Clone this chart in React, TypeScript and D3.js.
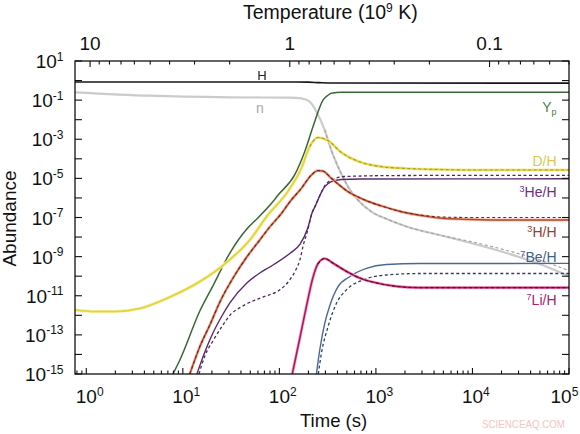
import React from "react";
import * as d3 from "d3";

type P = [number, number];

// ---- axes ----
const timeDomain: [number, number] = [0.764, 1e5];
const abundanceDomain: [number, number] = [1e-15, 10];
const temperatureDomain: [number, number] = [11.9, 0.04];
const abundanceTickExps = [1, 0, -1, -2, -3, -4, -5, -6, -7, -8, -9, -10, -11, -12, -13, -14, -15];
const abundanceLabelExps = [1, -1, -3, -5, -7, -9, -11, -13, -15];
const timeLabelExps = [0, 1, 2, 3, 4, 5];
const temperatureLabels = [10, 1, 0.1];

// ---- series: [time (s), abundance] ----
const hydrogen: P[] = [[0.764, 0.845], [150, 0.845], [200, 0.83], [260, 0.78], [350, 0.745], [1e5, 0.74]];

const neutron: P[] = [[0.764, 0.251], [4.56, 0.168], [30.7, 0.139], [128, 0.133], [169, 0.124], [206, 0.083], [242, 0.0256], [295, 2.97e-3], [346, 2.66e-4], [405, 3.95e-5], [514, 3.75e-6], [652, 7.85e-7], [897, 1.98e-7], [1333, 7.9e-8], [2147, 3.27e-8], [4570, 1.27e-8], [1e4, 4.7e-9], [22500, 1.53e-9], [49500, 4.2e-10], [1e5, 1.02e-10]];
const neutronDashed: P[] = [[295, 2.97e-3], [346, 2.66e-4], [405, 3.95e-5], [514, 3.75e-6], [652, 7.85e-7], [897, 1.98e-7], [1333, 7.9e-8], [2147, 3.27e-8], [4570, 1.27e-8], [1e4, 5.6e-9], [22500, 2.1e-9], [49500, 6.8e-10], [1e5, 1.9e-10]];

const helium4: P[] = [[7.9, 1e-15], [9.32, 5.2e-15], [15, 1.66e-12], [20.5, 3.2e-11], [30.7, 1.53e-9], [46, 2.6e-8], [59.8, 9.4e-8], [85.5, 6.4e-7], [97, 1.4e-6], [144, 1.5e-5], [183, 2.3e-4], [232, 7.9e-3], [283, 0.1], [316, 0.172], [346, 0.223], [439, 0.251], [1e5, 0.251]];

const deuterium: P[] = [[0.764, 1.87e-12], [1.23, 1.57e-12], [1.98, 1.57e-12], [3.59, 2.23e-12], [7.35, 8.6e-12], [15, 5.3e-11], [27.9, 4.7e-10], [49.4, 7.1e-9], [75.9, 1.34e-7], [122, 2.1e-6], [169, 3.3e-5], [206, 4.2e-4], [251, 1.23e-3], [319, 8.6e-4], [439, 2.1e-4], [652, 7.5e-5], [1138, 3.95e-5], [2080, 3.2e-5], [4570, 2.84e-5], [1e4, 2.68e-5], [1e5, 2.68e-5]];

const helium3: P[] = [[14, 1e-15], [16.9, 1.33e-14], [20.5, 1.25e-13], [25.4, 9.2e-13], [30.7, 4.3e-12], [46, 4.5e-11], [62.7, 1.46e-10], [79.6, 2.95e-10], [128, 1.45e-9], [163, 4.2e-9], [197, 2.9e-8], [216, 1.5e-7], [238, 4.35e-7], [273, 2.0e-6], [295, 3.75e-6], [346, 6.8e-6], [439, 8.8e-6], [679, 9.3e-6], [1e5, 9.5e-6]];
const helium3Dashed: P[] = [[14.7, 1e-15], [16.9, 8.3e-15], [20.5, 4.9e-14], [26, 3.2e-13], [30.7, 1.0e-12], [41.8, 3.0e-12], [67.3, 8.6e-12], [101, 2.0e-11], [128, 6.4e-11], [148, 2.1e-10], [163, 6.7e-10], [177, 3.9e-9], [197, 2.3e-8], [216, 1.5e-7], [238, 4.35e-7], [273, 2.0e-6], [295, 4.1e-6], [346, 8.3e-6], [475, 1.25e-5], [1762, 1.4e-5], [1e5, 1.44e-5]];

const tritium: P[] = [[11.8, 1e-15], [15, 2.5e-14], [19.05, 3.2e-13], [24.2, 4.8e-12], [34.6, 1.15e-10], [46, 9.6e-10], [62.7, 7.1e-9], [79.6, 3.3e-8], [106, 1.7e-7], [128, 6.2e-7], [169, 3.1e-6], [215, 1.49e-5], [251, 2.5e-5], [281, 2.4e-5], [346, 1.0e-5], [514, 2.1e-6], [765, 7.85e-7], [1138, 3.9e-7], [1834, 1.98e-7], [3194, 1.19e-7], [4570, 9.4e-8], [1e4, 7.9e-8], [22500, 7.4e-8], [1e5, 7.4e-8]];
const tritiumDashed: P[] = [[11.8, 1e-15], [15, 2.5e-14], [19.05, 3.2e-13], [24.2, 4.8e-12], [34.6, 1.15e-10], [46, 9.6e-10], [62.7, 7.1e-9], [79.6, 3.3e-8], [106, 1.7e-7], [128, 6.2e-7], [169, 3.1e-6], [215, 1.49e-5], [251, 2.5e-5], [281, 2.4e-5], [346, 1.0e-5], [514, 2.1e-6], [765, 7.85e-7], [1138, 3.9e-7], [1834, 2.0e-7], [3194, 1.25e-7], [4570, 1.07e-7], [1e4, 1.0e-7], [22500, 1.0e-7], [1e5, 1.0e-7]];

const beryllium7: P[] = [[242, 1e-15], [262, 1.69e-14], [295, 3.9e-13], [332, 3.0e-12], [405, 2.9e-11], [535, 9.4e-11], [797, 2.5e-10], [1283, 3.95e-10], [2836, 4.45e-10], [1e5, 4.5e-10]];
const beryllium7Dashed: P[] = [[253, 1e-15], [273, 1.19e-14], [319, 2.6e-13], [390, 4.1e-12], [495, 2.0e-11], [735, 6.4e-11], [1283, 1.15e-10], [2836, 1.37e-10], [1e5, 1.37e-10]];

const lithium7: P[] = [[136, 1e-15], [163, 6.9e-14], [192, 3.4e-12], [222, 8.1e-11], [250, 4.2e-10], [295, 8.0e-10], [357, 4.7e-10], [498, 1.74e-10], [679, 8.1e-11], [926, 5.0e-11], [1640, 3.0e-11], [2836, 2.6e-11], [1e5, 2.6e-11]];

// ---- layout ----
const L = 75, R = 569, T = 61, B = 374;
const FONT = "'Liberation Sans', Arial, Helvetica, sans-serif";

const x = d3.scaleLog().domain(timeDomain).range([L, R]);
const y = d3.scaleLog().domain(abundanceDomain).range([B, T]);
const tx = d3.scaleLog().domain(temperatureDomain).range([L, R]);

const line = d3
  .line<P>()
  .x((d) => x(d[0]))
  .y((d) => y(d[1]))
  .curve(d3.curveMonotoneX);

type Stroke = { data: P[]; color: string; width: number; dash?: string };

const strokes: Stroke[] = [
  { data: neutron, color: "#cbcbcb", width: 2.2 },
  { data: neutronDashed, color: "#a4a4a4", width: 1.2, dash: "3,2.5" },
  { data: hydrogen, color: "#151515", width: 1.6 },
  { data: helium4, color: "#3b6636", width: 1.5 },
  { data: deuterium, color: "#f4ee9e", width: 3.2 },
  { data: deuterium, color: "#e3d23a", width: 1.7 },
  { data: deuterium.filter((d) => d[0] >= 200), color: "#a89a30", width: 1.1, dash: "3,2.5" },
  { data: helium3, color: "#5a2a6c", width: 1.4 },
  { data: helium3Dashed, color: "#4c2a5e", width: 1.3, dash: "3,2.5" },
  { data: tritium, color: "#f7bea9", width: 3 },
  { data: tritium, color: "#b24a30", width: 1.4 },
  { data: tritiumDashed, color: "#6a2a20", width: 1.1, dash: "3,2.5" },
  { data: beryllium7, color: "#4a6890", width: 1.4 },
  { data: beryllium7Dashed, color: "#2f3f5e", width: 1.3, dash: "3,2.5" },
  { data: lithium7, color: "#f5b2d2", width: 3.2 },
  { data: lithium7, color: "#b0165c", width: 1.6 },
  { data: lithium7.filter((d) => d[0] >= 250), color: "#5c1030", width: 1.1, dash: "3,2.5" },
];

function minorTicks(domain: [number, number]): number[] {
  const lo = Math.min(domain[0], domain[1]);
  const hi = Math.max(domain[0], domain[1]);
  const out: number[] = [];
  for (let k = Math.floor(Math.log10(lo)); k <= Math.ceil(Math.log10(hi)); k++) {
    for (let m = 1; m <= 9; m++) {
      const v = m * Math.pow(10, k);
      if (v >= lo && v <= hi) out.push(v);
    }
  }
  return out;
}

const isPow10 = (v: number) => Math.abs(Math.log10(v) - Math.round(Math.log10(v))) < 1e-9;

export default function App() {
  const timeTicks = minorTicks(timeDomain);
  const tempTicks = minorTicks(temperatureDomain);
  return (
    <svg
      width={580}
      height={434}
      viewBox="0 0 580 434"
      style={{ position: "absolute", left: 0, top: 0, background: "#fff" }}
      fontFamily={FONT}
    >
      <defs>
        <clipPath id="plot">
          <rect x={L} y={T} width={R - L} height={B - T} />
        </clipPath>
      </defs>

      <g clipPath="url(#plot)" fill="none" strokeLinejoin="round">
        {strokes.map((s, i) => (
          <path key={i} d={line(s.data) || ""} stroke={s.color} strokeWidth={s.width} strokeDasharray={s.dash} />
        ))}
      </g>

      {/* frame */}
      <rect x={L} y={T} width={R - L} height={B - T} fill="none" stroke="#111" strokeWidth={1.3} />

      {/* left / right ticks */}
      {abundanceTickExps.map((e) => (
        <g key={"yt" + e} stroke="#111" strokeWidth={1.1}>
          <line x1={L} x2={L + 7} y1={y(Math.pow(10, e))} y2={y(Math.pow(10, e))} />
          <line x1={R} x2={R - 7} y1={y(Math.pow(10, e))} y2={y(Math.pow(10, e))} />
        </g>
      ))}
      {abundanceLabelExps.map((e) => (
        <text key={"yl" + e} x={63.5} y={y(Math.pow(10, e)) + 7} textAnchor="end" fontSize={19} fill="#111">
          10
          <tspan dy={-7.5} fontSize={12}>
            {String(e)}
          </tspan>
        </text>
      ))}

      {/* bottom ticks */}
      {timeTicks.map((v, i) => (
        <line key={"xt" + i} x1={x(v)} x2={x(v)} y1={B} y2={B - (isPow10(v) ? 6 : 3.5)} stroke="#111" strokeWidth={1.1} />
      ))}
      {timeLabelExps.map((k) => (
        <text key={"xl" + k} x={Math.min(x(Math.pow(10, k)) - 10.5, 550.5)} y={403} fontSize={19} fill="#111">
          10
          <tspan dy={-7} fontSize={12}>
            {String(k)}
          </tspan>
        </text>
      ))}

      {/* top (temperature) ticks */}
      {tempTicks.map((v, i) => (
        <line key={"tt" + i} x1={tx(v)} x2={tx(v)} y1={T} y2={T + (isPow10(v) ? 6 : 3.5)} stroke="#111" strokeWidth={1.1} />
      ))}
      {temperatureLabels.map((v) => (
        <text key={"tl" + v} x={tx(v)} y={50} textAnchor="middle" fontSize={19} fill="#111">
          {String(v)}
        </text>
      ))}

      {/* axis titles */}
      <text x={243} y={19} fontSize={19.5} fill="#111">
        Temperature (10
        <tspan dy={-7.5} fontSize={12}>
          9
        </tspan>
        <tspan dy={7.5}> K)</tspan>
      </text>
      <text x={300} y={427} fontSize={18.5} fill="#111">
        Time (s)
      </text>
      <text transform="translate(15.5,218.5) rotate(-90)" textAnchor="middle" fontSize={19} fill="#111">
        Abundance
      </text>

      {/* series labels */}
      <text x={262} y={80} textAnchor="middle" fontSize={13} fill="#222">H</text>
      <text x={260} y={113} textAnchor="middle" fontSize={14} fill="#a8a8a8">n</text>
      <g textAnchor="end" fontSize={14}>
        <text x={556.5} y={111.5} fill="#557a50">
          Y<tspan dy={3} fontSize={9}>p</tspan>
        </text>
        <text x={556.5} y={166} fill="#d9c94f">D/H</text>
        <text x={556.5} y={197} fill="#6e2e7e">
          <tspan dy={-5} fontSize={9}>3</tspan>
          <tspan dy={5}>He/H</tspan>
        </text>
        <text x={556.5} y={236.5} fill="#94402e">
          <tspan dy={-5} fontSize={9}>3</tspan>
          <tspan dy={5}>H/H</tspan>
        </text>
        <text x={556.5} y={261.5} fill="#40608a">
          <tspan dy={-5} fontSize={9}>7</tspan>
          <tspan dy={5}>Be/H</tspan>
        </text>
        <text x={556.5} y={305} fill="#a8206e">
          <tspan dy={-5} fontSize={9}>7</tspan>
          <tspan dy={5}>Li/H</tspan>
        </text>
      </g>

      <text x={482} y={428} fontSize={11} fill="#f2c6c2" textLength={83} lengthAdjust="spacingAndGlyphs">
        SCIENCEAQ.COM
      </text>
    </svg>
  );
}
